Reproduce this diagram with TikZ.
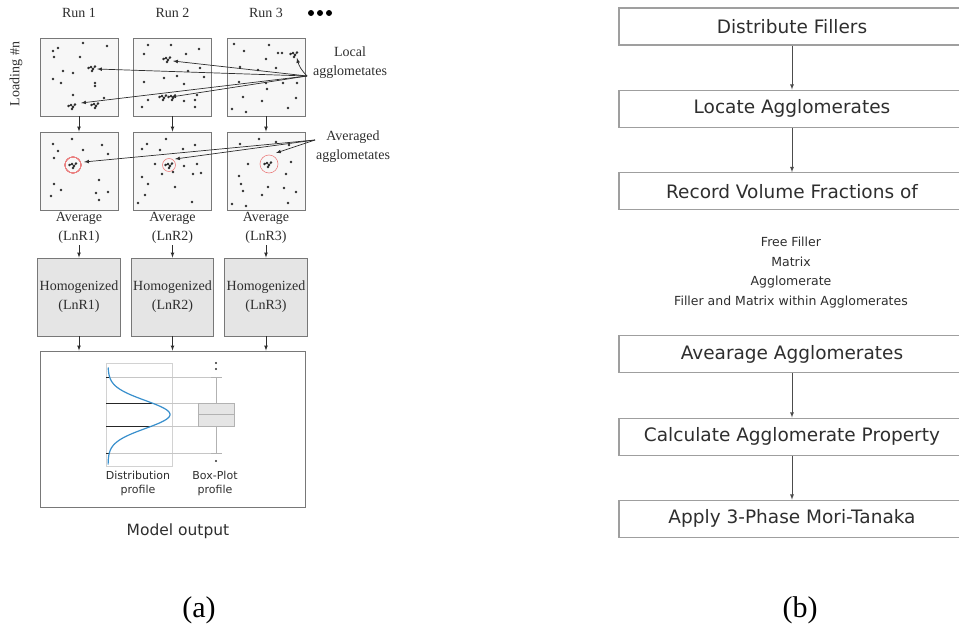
\documentclass[tikz,border=0pt]{standalone}
\usepackage{fontspec}
\setmainfont{Liberation Serif}
\newfontfamily\verdana{DejaVu Sans}
\usetikzlibrary{positioning}
\definecolor{boxgray}{rgb}{0.47,0.47,0.47}
\definecolor{panelfill}{rgb}{0.97,0.97,0.97}
\definecolor{homfill}{rgb}{0.90,0.90,0.90}
\definecolor{curveblue}{rgb}{0.22,0.56,0.80}
\definecolor{ringred}{rgb}{0.92,0.50,0.50}
\definecolor{inkgray}{rgb}{0.18,0.18,0.18}

% small cluster of fillers
\newcommand{\clump}[1]{%
  \begin{scope}[shift={(#1)}]
    \draw[inkgray,line width=0.7pt] (-3.5,0)--(-1,-1)--(1,1)--(3,-1.5) (1,1)--(0,3);
    \fill[inkgray] (-3.5,0) circle (1.3) (-1,-1) circle (1.3) (1,1) circle (1.3)
      (3,-1.5) circle (1.3) (0,3) circle (1.3);
  \end{scope}}

\begin{document}
\begin{tikzpicture}[x=1pt,y=-1pt,>=latex,
    lbl/.style={font=\fontsize{14}{19}\selectfont,text=inkgray,inner sep=2pt,align=center},
    runbox/.style={draw=boxgray,fill=panelfill,line width=0.9pt,minimum width=78pt,minimum height=78pt,inner sep=0pt},
    homog/.style={runbox,fill=homfill,lbl},
    link/.style={->,draw=inkgray,line width=0.7pt},
    ring/.style={draw=ringred,line width=0.6pt,circle,inner sep=0pt},
    flowbox/.style={draw=gray!75,line width=1.1pt,minimum width=346pt,minimum height=37pt,inner sep=0pt,
      font=\verdana\fontsize{18.5}{20}\selectfont,text=inkgray},
    flowlink/.style={->,draw=gray!60!black,line width=0.8pt}]
\useasboundingbox (0,0) rectangle (959,632);

% (a) runs
\foreach \i/\x in {1/79,2/172.5,3/266} {
  \node[lbl] (run\i) at (\x,13) {Run \i};
  \node[runbox] (top\i) at (\x,77) {};
  \node[runbox] (mid\i) at (\x,171) {};
  \node[lbl] (avg\i) at (\x,227.5) {Average\\(LnR\i)};
  \node[homog] (hom\i) at (\x,297) {Homogenized\\(LnR\i)};
  \draw[link] (top\i) -- (mid\i);
  \draw[link] (avg\i) -- (hom\i);
}
\foreach \x in {311,320,329}
  \fill[black] (\x,13) circle (3);
\node[lbl,rotate=90] (loading) at (16,74) {Loading \#n};

\foreach \px/\py in {83/43,107/46,53/51,58/48,54/57,80/57,63/71,73/73,53/79,61/83,95/83,95/86,73/95,104/98,
    148/45,171/45,199/49,144/54,186/54,188/71,200/68,164/78,177/76,204/77,144/82,184/84,148/100,184/101,195/100,197/95,195/107,142/107,
    234/44,269/45,244/51,266/59,240/67,258/70,276/68,239/82,266/83,283/83,297/83,267/89,243/97,262/101,296/98,232/109,246/112,288/108,
    72/139,53/144,58/151,83/150,102/145,108/154,54/158,99/180,54/184,61/190,51/196,96/193,108/192,99/200,
    166/139,147/144,142/149,160/150,183/149,195/145,155/164,184/166,197/164,162/174,173/172,193/174,201/173,142/177,148/184,175/187,145/195,138/203,192/202,
    259/139,240/144,276/142,289/145,248/164,291/162,286/174,239/176,241/184,243/191,268/187,284/188,296/192,262/195,232/204,246/206,288/203}
  \fill[inkgray] (\px,\py) circle (1.3);
\fill[inkgray] (278,53) circle (1.3) (282,53) circle (1.3);

\foreach \cx/\cy in {92/68,72/106,95/105,167/59,172/97,163/97,294/54,73/165,169/165,268/164}
  \clump{\cx,\cy}
\node[ring,minimum size=16pt] (ring1) at (73,165) {};
\node[ring,minimum size=13pt] (ring2) at (169,165) {};
\node[ring,minimum size=18pt] (ring3) at (269,164) {};

\node[lbl] (loclbl) at (350,63) {Local\\agglometates};
\node[lbl] (avglbl) at (353,147) {Averaged\\agglometates};
\coordinate (locsrc) at (307,76);
\coordinate (avgsrc) at (315,140);
\coordinate (l11) at (97,69);
\coordinate (l12) at (81,103);
\coordinate (l21) at (173,61);
\coordinate (l22) at (171,97);
\coordinate (l31) at (297,58);
\coordinate (a1) at (84,162);
\coordinate (a2) at (175,159);
\coordinate (a3) at (276,153);
\foreach \t in {l11,l12,l21,l22}
  \draw[link] (locsrc) -- (\t);
\draw[link] (locsrc) to[bend left=15] (l31);
\foreach \t in {a1,a2,a3}
  \draw[link] (avgsrc) -- (\t);

% output panel
\node[draw=boxgray,line width=0.9pt,minimum width=265pt,minimum height=156pt] (outbox) at (172.5,429) {};
\foreach \i in {1,2,3}
  \draw[link] (hom\i) -- (hom\i |- outbox.north);
\draw[gray!35,line width=0.5pt] (106,363) rectangle (172,466);
\draw[gray!45,line width=0.6pt] (106,377) -- (222,377) (106,453) -- (222,453)
  (152,403) -- (198,403) (152,426) -- (198,426);
\draw[gray!30!black,line width=1pt] (106,403) -- (152,403) (106,426) -- (152,426);
\draw[gray!30!black,line width=0.6pt] (106,377) -- (110,377) (106,453) -- (110,453);
\draw[curveblue,line width=1.2pt] plot[domain=-47:50,samples=70,smooth]
  ({108+62*exp(-(\x*\x)/386)},{414.5+\x});
\draw[gray!60,line width=0.6pt] (216,377) -- (216,403) (216,426) -- (216,453)
  (211,377) -- (222,377) (211,453) -- (222,453);
\filldraw[fill=homfill,draw=gray!60,line width=0.6pt] (198,403) rectangle (234,426);
\draw[gray!60,line width=0.6pt] (198,414) -- (234,414);
\fill[inkgray] (216,363) circle (1.1) (216,369) circle (1.1) (216,461) circle (1.1);
\node[font=\verdana\fontsize{11}{14}\selectfont,text=inkgray,align=center] (distlbl) at (138,483) {Distribution\\profile};
\node[font=\verdana\fontsize{11}{14}\selectfont,text=inkgray,align=center] (boxlbl) at (215,483) {Box-Plot\\profile};
\node[font=\verdana\fontsize{15.5}{18}\selectfont,text=inkgray] (modelout) at (178,531) {Model output};
\node[font=\fontsize{30}{34}\selectfont] (capa) at (199,610) {(a)};

% (b) procedure
\node[flowbox] (distr) at (792,26.5) {Distribute Fillers};
\node[flowbox,below=44pt of distr] (locate) {Locate Agglomerates};
\node[flowbox,below=44.5pt of locate] (record) {Record Volume Fractions of};
\node[font=\verdana\fontsize{12.5}{19.6}\selectfont,text=inkgray,align=center] (vflist) at (791,272.5)
  {Free Filler\\Matrix\\Agglomerate\\Filler and Matrix within Agglomerates};
\node[flowbox] (avgagg) at (792,354) {Avearage Agglomerates};
\node[flowbox,below=44.5pt of avgagg] (calc) {Calculate Agglomerate Property};
\node[flowbox,below=44pt of calc] (mt) {Apply 3-Phase Mori-Tanaka};
\draw[flowlink] (distr) -- (locate);
\draw[flowlink] (locate) -- (record);
\draw[flowlink] (avgagg) -- (calc);
\draw[flowlink] (calc) -- (mt);
\node[font=\fontsize{30}{34}\selectfont] (capb) at (800,610) {(b)};
\end{tikzpicture}
\end{document}
